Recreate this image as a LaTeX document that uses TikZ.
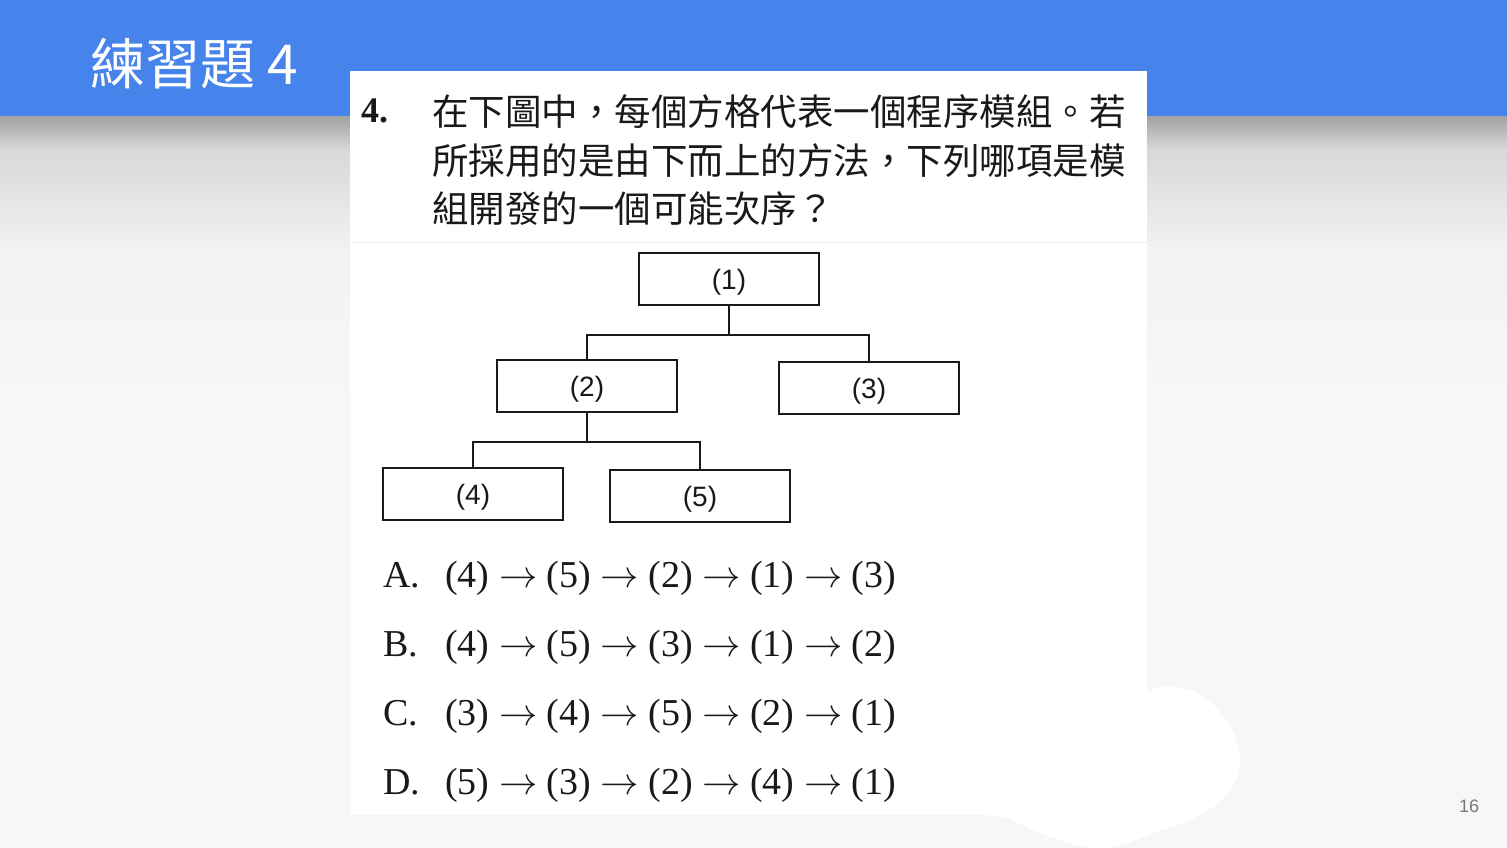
\documentclass[tikz,border=0pt]{standalone}
\usepackage{fontspec}
\usepackage{graphicx}
\setmainfont{Liberation Serif}
\newfontfamily\cjk{Noto Sans CJK TC}
\newfontfamily\arial{Liberation Sans}
\usetikzlibrary{calc}
\definecolor{hdr}{RGB}{70,132,236}
\definecolor{bg}{RGB}{247,247,247}
\definecolor{shA}{RGB}{160,160,160}
\definecolor{shB}{RGB}{216,216,216}
\definecolor{shC}{RGB}{242,242,242}
\definecolor{pgnum}{RGB}{120,120,120}
\definecolor{ink}{RGB}{25,25,25}
\newcommand{\seqarr}{\scalebox{1.85}{\fontsize{20}{24}\selectfont$\rightarrow$}}
\tikzset{
  tbox/.style={draw=ink, line width=2pt, minimum width=180pt, minimum height=52pt, inner sep=0pt,
    text height=26pt, text depth=6pt,
    font=\arial\fontsize{28}{30}\selectfont, text=ink},
  tline/.style={draw=ink, line width=2pt},
  qtext/.style={anchor=base west, inner sep=0pt, font=\cjk\fontsize{36.5}{40}\selectfont, text=ink},
  opttext/.style={anchor=base west, inner sep=0pt, font=\fontsize{38}{40}\selectfont, text=ink},
}
\begin{document}
\begin{tikzpicture}[x=1pt,y=-1pt]
\useasboundingbox (0,0) rectangle (1507,848);
\fill[bg] (0,0) rectangle (1507,848);
% header shadow
\shade[top color=shA, bottom color=shB] (0,115) rectangle (1507,150);
\shade[top color=shB, bottom color=shC] (0,150) rectangle (1507,250);
\shade[top color=shC, bottom color=bg] (0,250) rectangle (1507,400);
% header band
\fill[hdr] (0,0) rectangle (1507,116);
\node[anchor=base west, inner sep=0pt, text=white, font=\cjk\fontsize{55}{60}\selectfont] (title) at (90,85) {練習題 4};
% white panel
\fill[white] (350,71) rectangle (1147,815);
\draw[color=black!7, line width=1pt] (352,242) -- (1147,242);
% white blob
\fill[white] plot[smooth cycle] coordinates {(1130,700) (1165,686) (1200,694) (1225,718) (1239,748) (1237,778) (1220,802) (1190,820) (1150,834) (1115,847) (1080,846) (1040,833) (1005,818) (960,812) (930,805) (1000,760) (1100,720)};
% question
\node[anchor=base west, inner sep=0pt, font=\bfseries\fontsize{36}{40}\selectfont, text=ink] (qnum) at (361,123) {4.};
\node[qtext] (q1) at (432,126) {在下圖中，每個方格代表一個程序模組。若};
\node[qtext] (q2) at (432,174) {所採用的是由下而上的方法，下列哪項是模};
\node[qtext] (q3) at (432,222) {組開發的一個可能次序？};
% tree
\node[tbox] (n1) at (729,279) {(1)};
\node[tbox] (n2) at (587,386) {(2)};
\node[tbox] (n3) at (869,388) {(3)};
\node[tbox] (n4) at (473,494) {(4)};
\node[tbox] (n5) at (700,496) {(5)};
\draw[tline] (n1.south) -- ++(0,29) coordinate (j1);
\draw[tline] (n2.north) |- (j1) -| (n3.north);
\draw[tline] (n2.south) -- ++(0,29) coordinate (j2);
\draw[tline] (n4.north) |- (j2) -| (n5.north);
% options
\node[opttext] (la) at (383,587) {A.};
\node[opttext] (sa) at (445,587) {(4) \seqarr{} (5) \seqarr{} (2) \seqarr{} (1) \seqarr{} (3)};
\node[opttext] (lb) at (383,656) {B.};
\node[opttext] (sb) at (445,656) {(4) \seqarr{} (5) \seqarr{} (3) \seqarr{} (1) \seqarr{} (2)};
\node[opttext] (lc) at (383,725) {C.};
\node[opttext] (sc) at (445,725) {(3) \seqarr{} (4) \seqarr{} (5) \seqarr{} (2) \seqarr{} (1)};
\node[opttext] (ld) at (383,794) {D.};
\node[opttext] (sd) at (445,794) {(5) \seqarr{} (3) \seqarr{} (2) \seqarr{} (4) \seqarr{} (1)};
% page number
\node[text=pgnum, font=\arial\fontsize{18}{20}\selectfont] (pg) at (1469,806) {16};
\end{tikzpicture}
\end{document}
